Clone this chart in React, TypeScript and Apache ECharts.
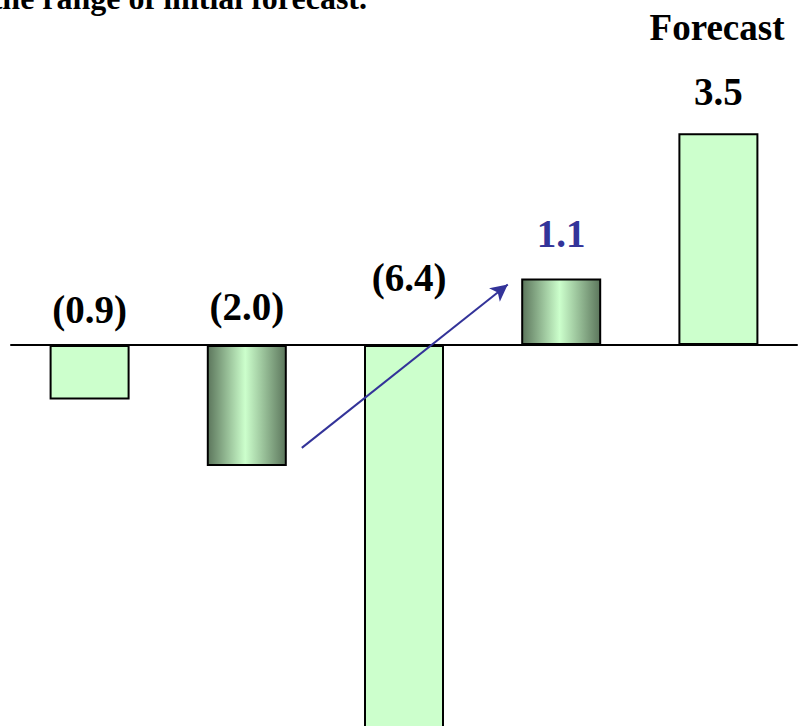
import React, { useEffect, useRef } from "react";
import * as echarts from "echarts";

const categories = ["A", "B", "C", "D", "E"];
const values = [-0.9, -2.0, -6.4, 1.1, 3.5];
const labelTexts = ["(0.9)", "(2.0)", "(6.4)", "1.1", "3.5"];
const gradientBars = [false, true, false, true, false];
const labelColors = ["#000000", "#000000", "#000000", "#333399", "#000000"];
const labelDistances = [16, 19, 48, 25, 22];
const labelOffsetsX = [0, 0, 5, 0, 0];
// arrow: [category index + fraction of band past its centre, value]
const arrowStart = [1.35, -1.7];
const arrowEnd = [2.66, 1.0];
const headerText = "Forecast";
const topText = "the range of initial forecast.";

const FONT = "'Liberation Serif', 'Times New Roman', serif";
const W = 798;
const H = 800;

export default function App() {
  const ref = useRef<HTMLDivElement>(null);
  useEffect(() => {
    if (!ref.current) return;
    document.documentElement.style.overflow = "hidden";
    document.body.style.overflow = "hidden";
    const chart = echarts.init(ref.current, null, { renderer: "svg" });
    const grad = new echarts.graphic.LinearGradient(0, 0, 1, 0, [
      { offset: 0, color: "#5c765c" },
      { offset: 0.48, color: "#ccffcc" },
      { offset: 1, color: "#5c765c" },
    ]);
    const data = values.map((v, i) => ({
      value: v,
      itemStyle: { color: gradientBars[i] ? grad : "#ccffcc" },
      label: {
        show: true,
        position: "top",
        distance: labelDistances[i],
        offset: [labelOffsetsX[i], 0],
        formatter: labelTexts[i],
        color: labelColors[i],
      },
    }));
    chart.setOption({
      animation: false,
      backgroundColor: "#ffffff",
      grid: { left: 11, right: 1, top: 42.5, bottom: H - 42.5 - 726, containLabel: false },
      xAxis: {
        type: "category",
        data: categories,
        axisLine: { show: true, lineStyle: { color: "#000", width: 2 } },
        axisTick: { show: false },
        axisLabel: { show: false },
        splitLine: { show: false },
      },
      yAxis: {
        type: "value",
        min: -7,
        max: 5,
        show: false,
        splitLine: { show: false },
      },
      series: [
        {
          type: "bar",
          data,
          barWidth: 80,
          itemStyle: { borderColor: "#000", borderWidth: 2 },
          label: {
            fontFamily: FONT,
            fontWeight: "bold",
            fontSize: 39,
          },
        },
      ],
      graphic: [
        {
          type: "text",
          x: 717,
          y: 27,
          style: {
            text: headerText,
            font: `bold 37px ${FONT}`,
            fill: "#000",
            align: "center",
            verticalAlign: "middle",
          },
        },
        {
          type: "text",
          x: 367,
          y: 14,
          style: {
            text: topText,
            font: `bold 32px ${FONT}`,
            fill: "#000",
            align: "right",
            verticalAlign: "bottom",
          },
        },
      ],
    });

    const toPx = (pt: number[]) => {
      const base = Math.floor(pt[0]);
      const frac = pt[0] - base;
      const x0 = chart.convertToPixel({ xAxisIndex: 0 }, base) as number;
      const x1 = chart.convertToPixel({ xAxisIndex: 0 }, base + 1) as number;
      const y = chart.convertToPixel({ yAxisIndex: 0 }, pt[1]) as number;
      const band = x1 - x0;
      return [x0 + frac * band, y];
    };
    const s = toPx(arrowStart);
    const e = toPx(arrowEnd);
    chart.setOption({
      series: [
        {
          markLine: {
            silent: true,
            symbol: ["none", "arrow"],
            symbolSize: [13, 17],
            label: { show: false },
            lineStyle: { color: "#333399", width: 2, type: "solid" },
            data: [[{ x: s[0], y: s[1] }, { x: e[0], y: e[1] }]],
          },
        },
      ],
    });
    return () => chart.dispose();
  }, []);
  return (
    <div
      ref={ref}
      style={{ position: "absolute", left: 0, top: 0, width: W, height: H }}
    />
  );
}
